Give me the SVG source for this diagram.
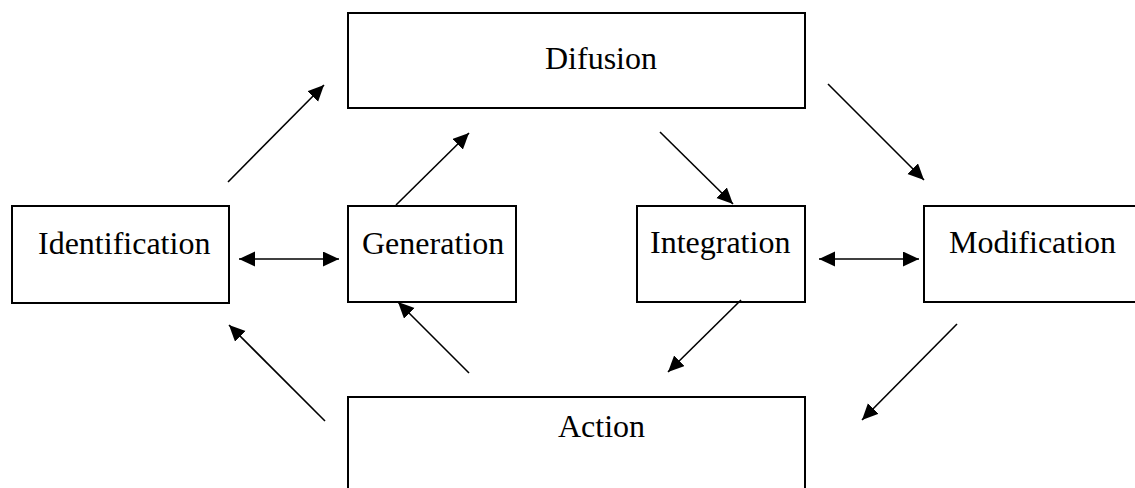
<svg xmlns="http://www.w3.org/2000/svg" width="1135" height="488" viewBox="0 0 1135 488">
<style>
.box{fill:#fff;stroke:#000;stroke-width:2}
.lbl{font-family:"Liberation Serif","Times New Roman",serif;font-size:32px;fill:#000}
.con line{stroke:#000;stroke-width:1.6}
</style>
<defs>
<marker id="ah" markerUnits="userSpaceOnUse" markerWidth="18" markerHeight="16" refX="16" refY="7.5" orient="auto-start-reverse">
<path d="M0,0 L16,7.5 L0,15 Z" fill="#000"/>
</marker>
</defs>
<rect width="1135" height="488" fill="#fff"/>
<g id="difusion"><rect class="box" x="348" y="13" width="457" height="95"/><text class="lbl" x="545" y="69">Difusion</text></g>
<g id="identification"><rect class="box" x="12" y="206" width="217" height="97"/><text class="lbl" x="38" y="254">Identification</text></g>
<g id="generation"><rect class="box" x="348" y="206" width="168" height="96"/><text class="lbl" x="362" y="254">Generation</text></g>
<g id="integration"><rect class="box" x="637" y="206" width="168" height="96"/><text class="lbl" x="650" y="253">Integration</text></g>
<g id="modification"><rect class="box" x="924" y="206" width="220" height="96"/><text class="lbl" x="949" y="253">Modification</text></g>
<g id="action"><rect class="box" x="348" y="397" width="457" height="100"/><text class="lbl" x="558" y="437">Action</text></g>
<g id="connectors" class="con">
<line x1="228" y1="182" x2="324" y2="85" marker-end="url(#ah)"/>
<line x1="396" y1="205" x2="469" y2="133" marker-end="url(#ah)"/>
<line x1="660" y1="132" x2="733" y2="204" marker-end="url(#ah)"/>
<line x1="828" y1="84" x2="924" y2="180" marker-end="url(#ah)"/>
<line x1="819" y1="259" x2="919" y2="259" marker-start="url(#ah)" marker-end="url(#ah)"/>
<line x1="741" y1="300" x2="668" y2="372" marker-end="url(#ah)"/>
<line x1="957" y1="324" x2="862" y2="420" marker-end="url(#ah)"/>
<line x1="239" y1="259" x2="339" y2="259" marker-start="url(#ah)" marker-end="url(#ah)"/>
<line x1="469" y1="373" x2="398" y2="302" marker-end="url(#ah)"/>
<line x1="325" y1="421" x2="229" y2="325" marker-end="url(#ah)"/>
</g>
</svg>
